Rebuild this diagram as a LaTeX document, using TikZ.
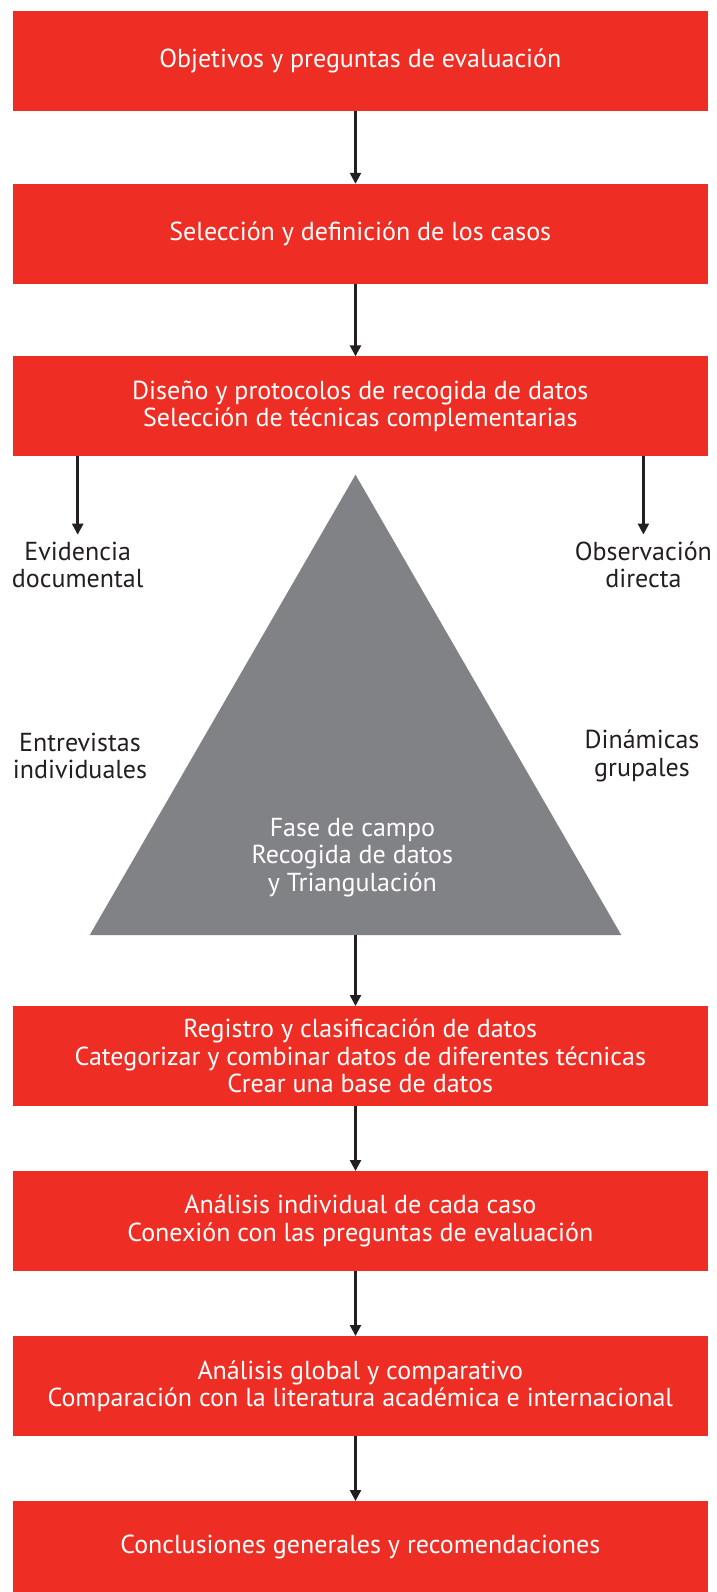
\documentclass[tikz,border=0pt]{standalone}
\usepackage{fontspec}
\setmainfont{PT Sans}
\usetikzlibrary{arrows.meta,positioning,shapes.geometric}
\definecolor{boxred}{HTML}{EE2E24}
\definecolor{trigrey}{HTML}{818286}
\definecolor{arrdark}{HTML}{231F20}

\begin{document}
\begin{tikzpicture}[x=1pt, y=-1pt,
    box/.style={fill=boxred, text=white, align=center,
      font=\fontsize{26}{27.5}\selectfont, minimum width=695pt,
      minimum height=100pt, inner sep=0pt, outer sep=0pt},
    lbl/.style={text=arrdark, align=center,
      font=\fontsize{26}{27.5}\selectfont, inner sep=0pt},
    tri/.style={regular polygon, regular polygon sides=3, fill=trigrey,
      minimum size=613.8pt, inner sep=0pt, outer sep=0pt},
    arr/.style={-{Triangle[length=11pt,width=11pt]}, line width=2.5pt, draw=arrdark}
  ]
  \useasboundingbox (0,0) rectangle (716,1592);
  \coordinate (axis) at (355.5,0);
  \node[box] (obj) at (360.3,61.3) {Objetivos y preguntas de evaluación};
  \node[box, below=72.5pt of obj] (sel) {Selección y definición de los casos};
  \node[box, below=72.5pt of sel] (dis) {Diseño y protocolos de recogida de datos\\
    Selección de técnicas complementarias};
  \node[tri] (campo) at (355.5,781.6) {};
  \node[lbl, text=white] (fase) at (352.4,857.6) {Fase de campo\\Recogida de datos\\y Triangulación};
  \node[lbl] (evid) at (77.7,565) {Evidencia\\documental};
  \node[lbl] (obs) at (643.4,565) {Observación\\directa};
  \node[lbl] (entr) at (80,756) {Entrevistas\\individuales};
  \node[lbl] (din) at (642,756) {Dinámicas\\grupales};
  \node[box] (reg) at (360.3,1056) {Registro y clasificación de datos\\
    Categorizar y combinar datos de diferentes técnicas\\Crear una base de datos};
  \node[box, below=65pt of reg] (ana) {Análisis individual de cada caso\\
    Conexión con las preguntas de evaluación};
  \node[box, below=65pt of ana] (glo) {Análisis global y comparativo\\
    Comparación con la literatura académica e internacional};
  \node[box, below=65pt of glo, minimum height=91pt] (con) {Conclusiones generales y recomendaciones};
  \draw[arr] (obj.south -| axis) -- (sel.north -| axis);
  \draw[arr] (sel.south -| axis) -- (dis.north -| axis);
  \draw[arr, shorten >=7pt] (dis.south -| evid) -- (evid.north);
  \draw[arr, shorten >=7pt] (dis.south -| obs) -- (obs.north);
  \draw[arr] (campo.south) -- (reg.north -| campo.south);
  \draw[arr] (reg.south -| axis) -- (ana.north -| axis);
  \draw[arr] (ana.south -| axis) -- (glo.north -| axis);
  \draw[arr] (glo.south -| axis) -- (con.north -| axis);
\end{tikzpicture}
\end{document}
